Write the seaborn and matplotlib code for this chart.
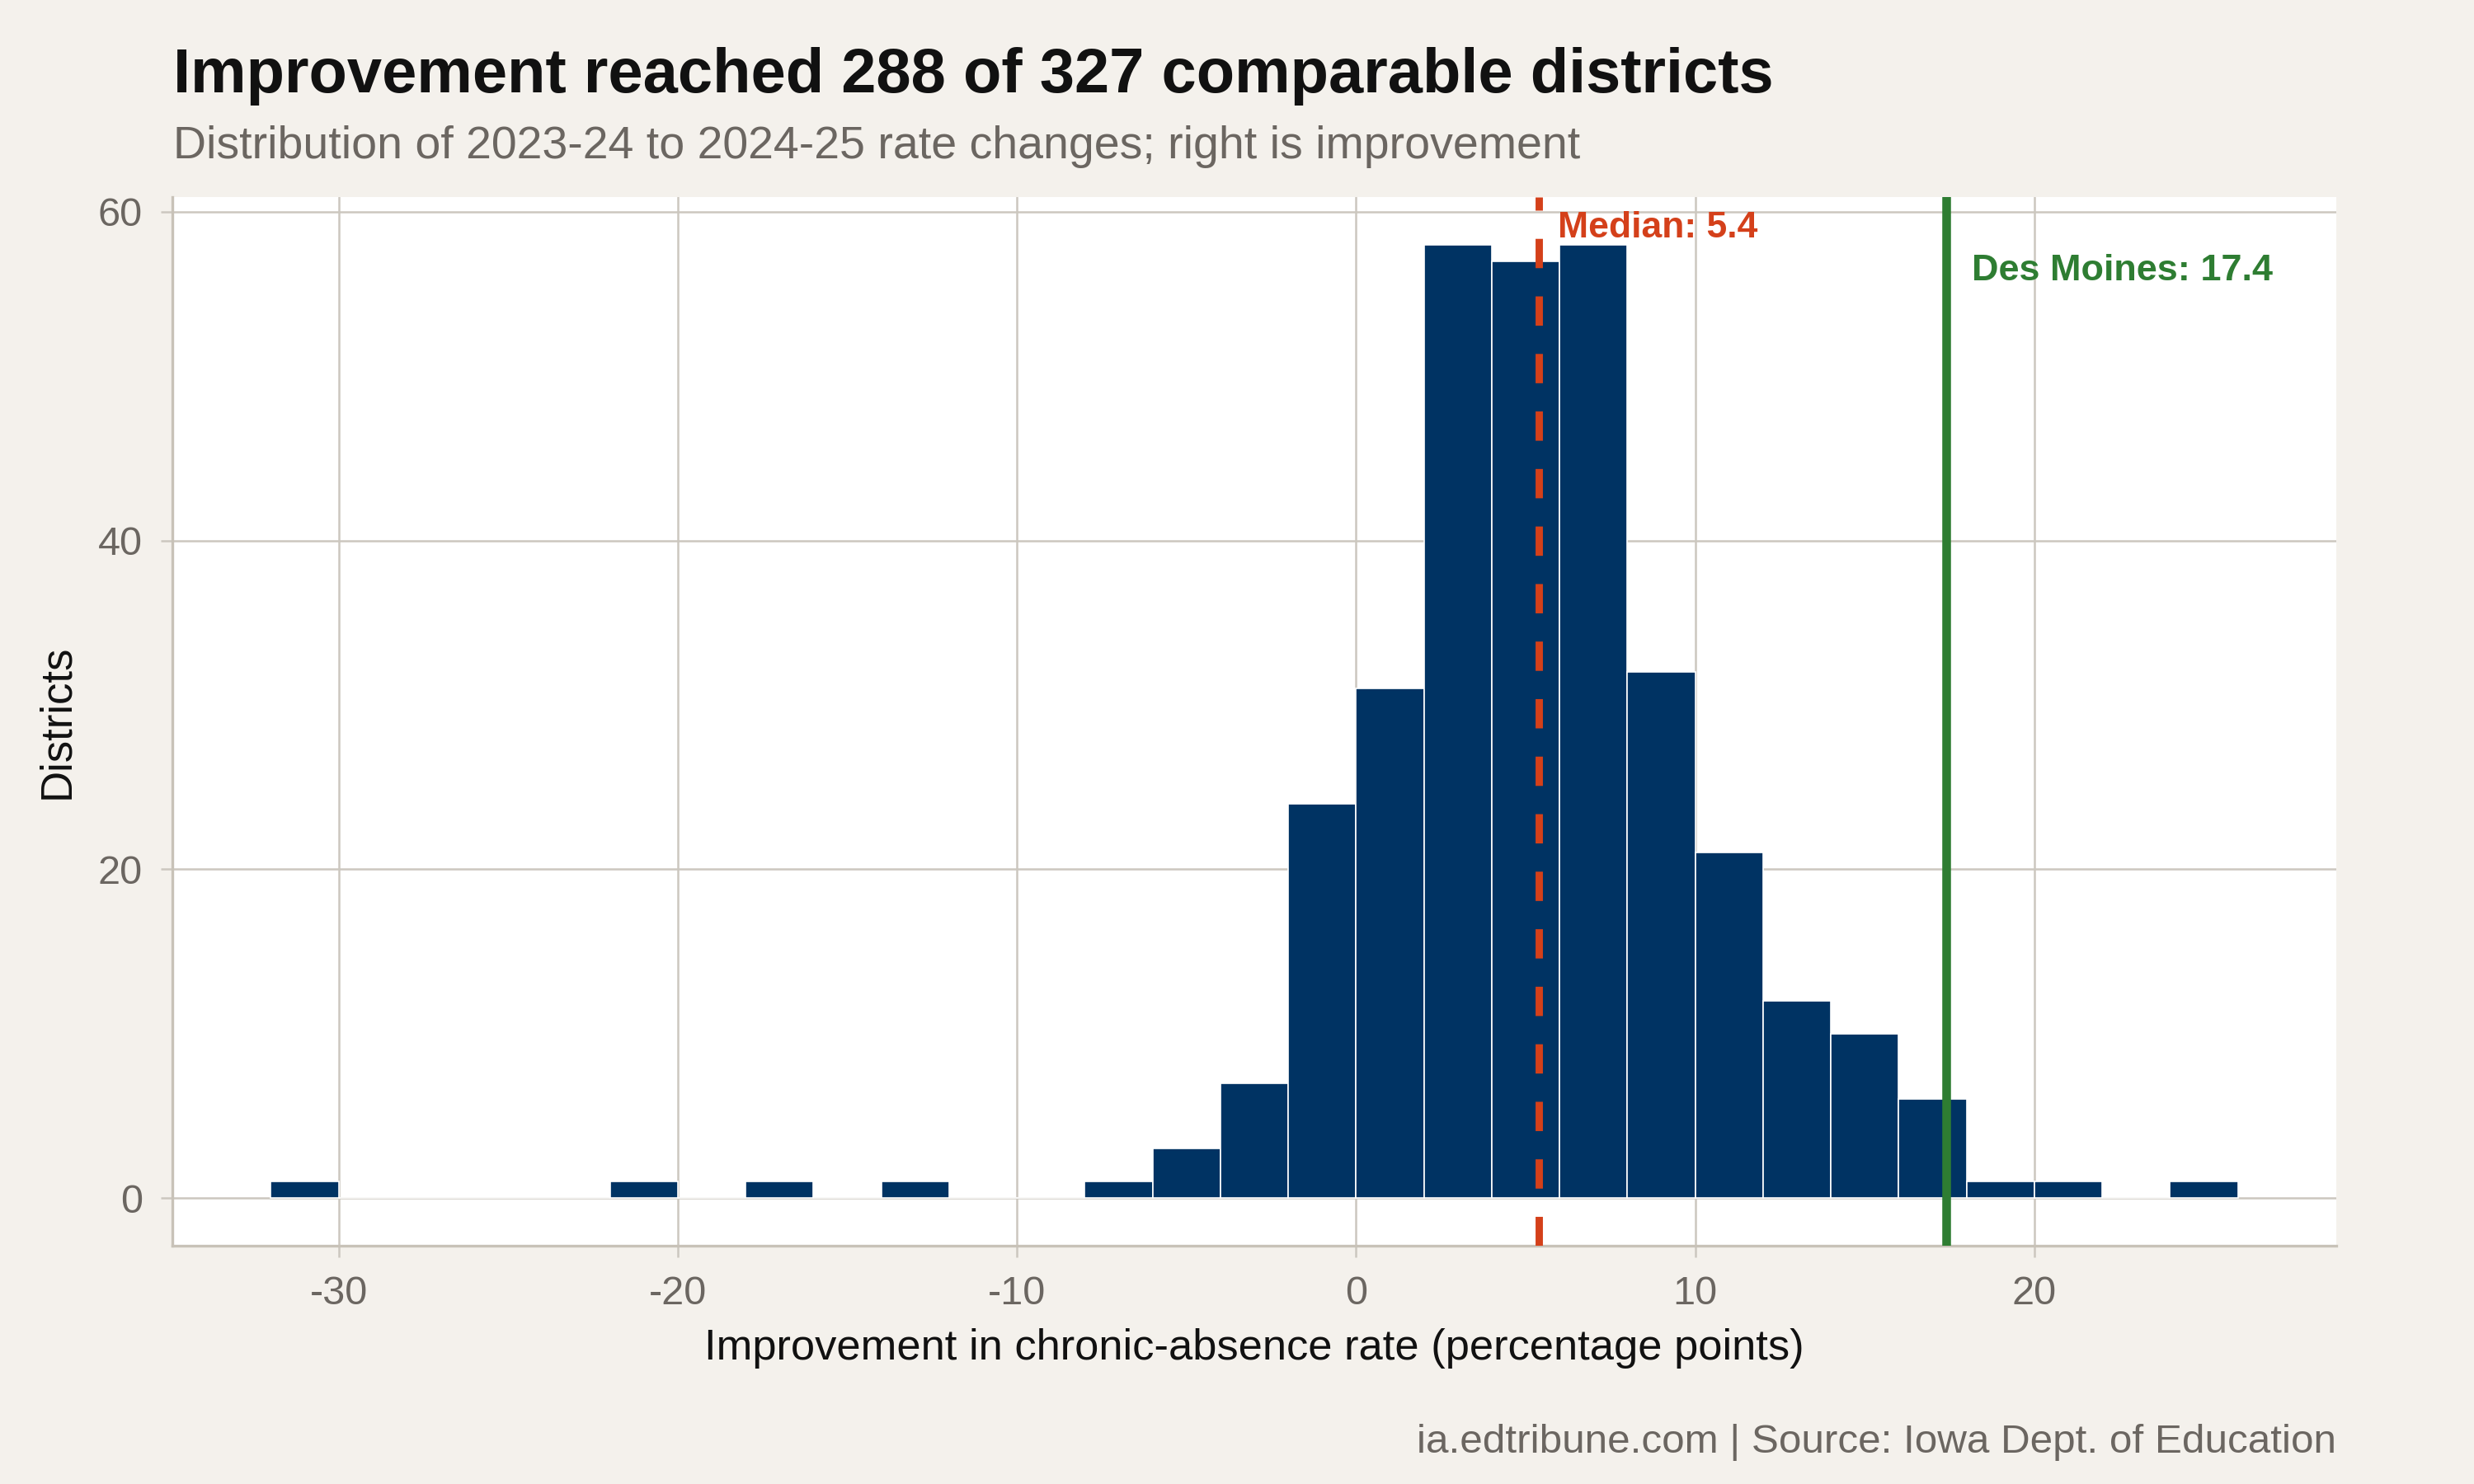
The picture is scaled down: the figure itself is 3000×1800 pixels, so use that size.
import numpy as np
import pandas as pd
import matplotlib
matplotlib.use("Agg")
import matplotlib.pyplot as plt
import seaborn as sns

# ---- data ----
bin_left = [-32, -30, -28, -26, -24, -22, -20, -18, -16, -14, -12, -10, -8, -6, -4,
            -2, 0, 2, 4, 6, 8, 10, 12, 14, 16, 18, 20, 22, 24]
counts = [1, 0, 0, 0, 0, 1, 0, 1, 0, 1, 0, 0, 1, 3, 7,
          24, 31, 58, 57, 58, 32, 21, 12, 10, 6, 1, 1, 0, 1]
bin_width = 2
median_value = 5.4
des_moines_value = 17.4
x_ticks = [-30, -20, -10, 0, 10, 20]
y_ticks = [0, 20, 40, 60]

title = "Improvement reached 288 of 327 comparable districts"
subtitle = "Distribution of 2023-24 to 2024-25 rate changes; right is improvement"
x_label = "Improvement in chronic-absence rate (percentage points)"
y_label = "Districts"
caption = "ia.edtribune.com | Source: Iowa Dept. of Education"
median_label = "Median: 5.4"
dm_label = "Des Moines: 17.4"

BG = "#f4f1ec"
NAVY = "#003363"
RED = "#d4401a"
GREEN = "#2e7d32"
GRID = "#ccc7bf"
GRAY_TXT = "#6b6661"

sns.set_theme(style="white")
plt.rcParams["font.family"] = ["Liberation Sans", "DejaVu Sans"]
plt.rcParams["axes.unicode_minus"] = False

df = pd.DataFrame({"x": [b + bin_width / 2 for b in bin_left], "n": counts})
edges = bin_left + [bin_left[-1] + bin_width]

fig = plt.figure(figsize=(15, 9), dpi=200, facecolor=BG)
ax = fig.add_axes([0.0697, 0.1606, 0.9443 - 0.0697, 0.8672 - 0.1606])
ax.set_facecolor("white")

sns.histplot(data=df, x="x", weights="n", bins=edges, ax=ax,
             color=NAVY, alpha=1, edgecolor="white", linewidth=0.6, zorder=2)

ax.axvline(median_value, color=RED, lw=3.2, linestyle=(0, (4.0, 3.85)), zorder=3)
ax.axvline(des_moines_value, color=GREEN, lw=3.8, zorder=3)

ax.text(median_value + 0.55, 59.0, median_label, color=RED, fontsize=16,
        fontweight="bold", ha="left", va="center", zorder=4)
ax.text(des_moines_value + 0.75, 56.4, dm_label, color=GREEN, fontsize=16.2,
        fontweight="bold", ha="left", va="center", zorder=4)

ax.set_xlim(-34.9, 28.9)
ax.set_ylim(-2.9, 60.9)
ax.set_xticks(x_ticks)
ax.set_yticks(y_ticks)
ax.set_axisbelow(True)
ax.grid(True, color=GRID, lw=0.9)

for s in ["top", "right"]:
    ax.spines[s].set_visible(False)
for s in ["left", "bottom"]:
    ax.spines[s].set_color("#c8c2b8")
    ax.spines[s].set_linewidth(1.2)

ax.tick_params(axis="both", length=5, width=0.9, color=GRID, pad=8,
               labelsize=17.5, labelcolor=GRAY_TXT)
ax.tick_params(axis="both", which="both", bottom=True, left=True)

ax.set_xlabel(x_label, fontsize=18.9, color="#111111", labelpad=7)
ax.set_ylabel(y_label, fontsize=19, color="#111111", labelpad=9)

fig.text(0.0700, 0.9378, title, fontsize=27.3, fontweight="bold", color="#111111",
         ha="left", va="baseline")
fig.text(0.0700, 0.8933, subtitle, fontsize=20, color=GRAY_TXT,
         ha="left", va="baseline")
fig.text(0.9443, 0.0211, caption, fontsize=17.8, color=GRAY_TXT,
         ha="right", va="baseline")

fig.savefig("out.png", dpi=200, facecolor=BG)
